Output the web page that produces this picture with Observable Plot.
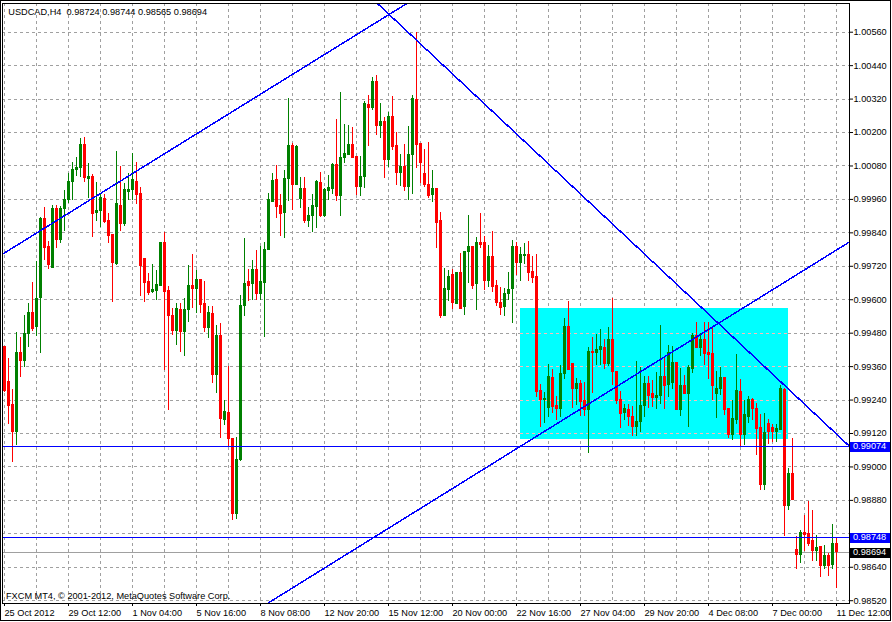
<!DOCTYPE html>
<html><head><meta charset="utf-8">
<script src="https://cdn.jsdelivr.net/npm/d3@7"></script>
<script src="https://cdn.jsdelivr.net/npm/@observablehq/plot@0.6"></script>
<style>
html,body{margin:0;padding:0;background:#fff;}
#chart svg{display:block;}
#chart svg text{white-space:pre;}
</style></head><body><div id="chart"></div>
<script>
const symbolLine = "USDCAD,H4  0.98724 0.98744 0.98565 0.98694";
const copyright = "FXCM MT4, \u00a9 2001-2012, MetaQuotes Software Corp.";

const opens = [0.99430,0.99306,0.99224,0.99125,0.99409,0.99380,0.99478,0.99553,0.99502,0.99606,
0.99890,0.99789,0.99714,0.99926,0.99815,0.99924,0.99958,1.00022,1.00064,1.00072,
1.00156,1.00033,1.00042,0.99911,0.99918,0.99962,0.99882,0.99834,0.99729,0.99938,
0.99870,0.99988,0.99992,1.00024,0.99978,0.99747,0.99663,0.99627,0.99631,0.99648,
0.99805,0.99631,0.99541,0.99488,0.99564,0.99484,0.99562,0.99648,0.99640,0.99672,
0.99583,0.99499,0.99550,0.99329,0.99469,0.99167,0.99194,0.99101,0.98832,0.99024,
0.99576,0.99664,0.99658,0.99706,0.99622,0.99660,0.99780,0.99951,1.00028,0.99935,
0.99911,1.00034,1.00153,1.00010,0.99962,0.99998,0.99882,0.99899,0.99932,1.00019,
0.99899,0.99990,0.99998,1.00082,0.99974,1.00108,1.00121,1.00157,1.00112,1.00004,
1.00042,1.00297,1.00289,1.00383,1.00222,1.00236,1.00100,1.00257,1.00150,1.00054,
1.00076,1.00006,1.00118,1.00318,1.00159,1.00052,1.00010,0.99977,0.99996,0.99881,
0.99540,0.99635,0.99687,0.99583,0.99695,0.99573,0.99771,0.99791,0.99657,0.99805,
0.99805,0.99667,0.99755,0.99651,0.99590,0.99573,0.99619,0.99637,0.99791,0.99731,
0.99756,0.99759,0.99698,0.99680,0.99271,0.99241,0.99212,0.99320,0.99217,0.99207,
0.99334,0.99502,0.99368,0.99278,0.99296,0.99235,0.99206,0.99412,0.99408,0.99418,
0.99426,0.99370,0.99457,0.99342,0.99242,0.99193,0.99205,0.99181,0.99145,0.99161,
0.99218,0.99296,0.99260,0.99247,0.99254,0.99324,0.99295,0.99301,0.99372,0.99206,
0.99289,0.99262,0.99352,0.99469,0.99427,0.99457,0.99409,0.99406,0.99260,0.99278,
0.99319,0.99207,0.99113,0.99167,0.99269,0.99113,0.99181,0.99242,0.99209,0.99140,
0.98934,0.99155,0.99140,0.99125,0.99134,0.99277,0.98860,0.98973,0.98701,0.98683,
0.98764,0.98758,0.98733,0.98698,0.98713,0.98644,0.98679,0.98647,0.98724];

const highs = [0.99432,0.99389,0.99277,0.99482,0.99463,0.99543,0.99585,0.99661,0.99737,0.99896,
0.99930,0.99809,0.99938,0.99938,0.99934,0.99992,1.00052,1.00091,1.00111,1.00177,
1.00181,1.00088,1.00049,1.00022,0.99980,0.99978,0.99911,0.99834,1.00132,1.00078,
1.00018,1.00052,1.00123,1.00091,1.00001,0.99747,0.99694,0.99727,0.99706,0.99807,
0.99840,0.99646,0.99568,0.99586,0.99586,0.99604,0.99723,0.99763,0.99706,0.99672,
0.99667,0.99574,0.99574,0.99506,0.99514,0.99239,0.99359,0.99101,0.99104,0.99616,
0.99819,0.99708,0.99741,0.99777,0.99792,0.99807,0.99981,1.00052,1.00081,0.99978,
1.00064,1.00321,1.00159,1.00153,1.00040,1.00040,0.99932,0.99978,1.00028,1.00058,
0.99998,1.00046,1.00088,1.00247,1.00345,1.00229,1.00225,1.00217,1.00114,1.00114,
1.00311,1.00333,1.00399,1.00405,1.00305,1.00253,1.00273,1.00329,1.00201,1.00121,
1.00157,1.00222,1.00333,1.00560,1.00162,1.00139,1.00163,1.00064,0.99996,0.99912,
0.99711,0.99705,0.99708,0.99699,0.99767,0.99773,0.99902,0.99791,0.99824,0.99908,
0.99827,0.99795,0.99845,0.99669,0.99643,0.99639,0.99699,0.99813,0.99807,0.99789,
0.99801,0.99809,0.99756,0.99762,0.99296,0.99268,0.99368,0.99350,0.99253,0.99364,
0.99534,0.99594,0.99372,0.99316,0.99310,0.99304,0.99430,0.99466,0.99475,0.99492,
0.99456,0.99499,0.99603,0.99342,0.99271,0.99223,0.99223,0.99218,0.99379,0.99358,
0.99324,0.99324,0.99310,0.99340,0.99507,0.99396,0.99436,0.99432,0.99372,0.99352,
0.99328,0.99364,0.99478,0.99517,0.99478,0.99519,0.99517,0.99499,0.99343,0.99358,
0.99319,0.99207,0.99239,0.99404,0.99313,0.99239,0.99251,0.99247,0.99227,0.99189,
0.99191,0.99171,0.99153,0.99153,0.99293,0.99281,0.98994,0.99101,0.98749,0.98772,
0.98826,0.98877,0.98844,0.98755,0.98715,0.98719,0.98689,0.98794,0.98744];

const lows = [0.99268,0.99152,0.99017,0.99077,0.99320,0.99358,0.99430,0.99487,0.99469,0.99408,
0.99741,0.99708,0.99713,0.99785,0.99803,0.99846,0.99944,0.99956,1.00042,1.00040,
1.00022,0.99962,0.99824,0.99881,0.99858,0.99872,0.99803,0.99591,0.99723,0.99845,
0.99863,0.99956,0.99956,0.99942,0.99612,0.99590,0.99616,0.99622,0.99596,0.99648,
0.99347,0.99203,0.99472,0.99436,0.99412,0.99395,0.99517,0.99568,0.99550,0.99550,
0.99484,0.99460,0.99301,0.99265,0.99101,0.99149,0.99072,0.98809,0.98811,0.99021,
0.99541,0.99592,0.99598,0.99596,0.99598,0.99463,0.99777,0.99951,0.99891,0.99828,
0.99819,0.99954,0.99920,1.00010,0.99926,0.99875,0.99860,0.99840,0.99854,0.99894,
0.99896,0.99956,0.99976,0.99954,0.99899,1.00090,1.00118,1.00108,0.99974,0.99970,
0.99998,1.00150,1.00279,1.00189,1.00177,1.00036,1.00076,1.00135,1.00010,1.00006,
0.99988,0.99956,0.99978,1.00070,1.00016,1.00004,0.99962,0.99950,0.99785,0.99534,
0.99540,0.99594,0.99564,0.99583,0.99567,0.99543,0.99659,0.99635,0.99561,0.99785,
0.99633,0.99645,0.99627,0.99576,0.99543,0.99540,0.99597,0.99516,0.99687,0.99665,
0.99725,0.99665,0.99659,0.99248,0.99143,0.99155,0.99179,0.99193,0.99167,0.99179,
0.99313,0.99346,0.99210,0.99220,0.99182,0.99182,0.99047,0.99262,0.99364,0.99364,
0.99350,0.99360,0.99292,0.99223,0.99139,0.99167,0.99145,0.99110,0.99110,0.99125,
0.99176,0.99208,0.99214,0.99205,0.99224,0.99206,0.99248,0.99278,0.99202,0.99181,
0.99260,0.99140,0.99334,0.99424,0.99396,0.99364,0.99314,0.99238,0.99173,0.99257,
0.99185,0.99101,0.99095,0.99153,0.99071,0.99077,0.99155,0.99167,0.99042,0.98914,
0.98914,0.99081,0.99089,0.99086,0.99131,0.98751,0.98842,0.98878,0.98631,0.98653,
0.98697,0.98713,0.98659,0.98662,0.98605,0.98631,0.98607,0.98631,0.98565];

const closes = [0.99274,0.99217,0.99125,0.99409,0.99380,0.99478,0.99553,0.99496,0.99603,0.99890,
0.99785,0.99726,0.99926,0.99815,0.99926,0.99958,1.00022,1.00066,1.00073,1.00156,
1.00037,1.00042,0.99906,0.99920,0.99966,0.99878,0.99828,0.99731,0.99942,0.99870,
0.99992,0.99995,1.00028,0.99975,0.99720,0.99660,0.99625,0.99634,0.99652,0.99804,
0.99628,0.99541,0.99488,0.99568,0.99484,0.99564,0.99648,0.99640,0.99672,0.99580,
0.99499,0.99554,0.99329,0.99469,0.99173,0.99197,0.99101,0.98832,0.99024,0.99576,
0.99658,0.99648,0.99706,0.99622,0.99664,0.99780,0.99957,1.00025,0.99933,0.99906,
1.00034,1.00153,1.00010,1.00147,0.99998,0.99882,0.99902,0.99935,1.00022,0.99899,
0.99992,1.00002,1.00082,0.99974,1.00110,1.00124,1.00157,1.00108,1.00004,1.00042,
1.00301,1.00289,1.00381,1.00222,1.00236,1.00100,1.00257,1.00147,1.00054,1.00076,
1.00004,1.00118,1.00321,1.00157,1.00090,1.00010,0.99974,0.99996,0.99875,0.99540,
0.99637,0.99683,0.99588,0.99695,0.99567,0.99773,0.99791,0.99651,0.99805,0.99798,
0.99667,0.99755,0.99645,0.99588,0.99571,0.99619,0.99635,0.99791,0.99731,0.99759,
0.99760,0.99695,0.99677,0.99268,0.99241,0.99244,0.99322,0.99215,0.99207,0.99334,
0.99502,0.99348,0.99279,0.99296,0.99232,0.99206,0.99412,0.99408,0.99421,0.99430,
0.99370,0.99456,0.99340,0.99238,0.99190,0.99208,0.99179,0.99145,0.99161,0.99220,
0.99296,0.99256,0.99247,0.99256,0.99324,0.99292,0.99408,0.99372,0.99206,0.99289,
0.99262,0.99354,0.99469,0.99427,0.99457,0.99406,0.99402,0.99292,0.99281,0.99319,
0.99203,0.99113,0.99171,0.99271,0.99113,0.99185,0.99239,0.99207,0.99135,0.98934,
0.99123,0.99125,0.99125,0.99137,0.99278,0.98860,0.98976,0.98880,0.98683,0.98764,
0.98756,0.98725,0.98698,0.98710,0.98644,0.98679,0.98643,0.98725,0.98694];

// bottom time axis: bar number of each label and its text
const timeTickBars = [1,17,33,49,65,81,97,113,129,145,161,177,193,209];
const timeLabels = ["25 Oct 2012","29 Oct 12:00","1 Nov 04:00","5 Nov 16:00","8 Nov 08:00",
  "12 Nov 20:00","15 Nov 12:00","20 Nov 00:00","22 Nov 16:00","27 Nov 04:00",
  "29 Nov 20:00","4 Dec 08:00","7 Dec 00:00","11 Dec 12:00"];
// right price axis
const gridPrices = [0.98520,0.98640,0.98760,0.98880,0.99000,0.99120,0.99240,0.99360,0.99480,
  0.99600,0.99720,0.99840,0.99960,1.00080,1.00200,1.00320,1.00440,1.00560];
const priceLabels = ["0.98520","0.98640","0.98880","0.99000","0.99120","0.99240","0.99360","0.99480",
  "0.99600","0.99720","0.99840","0.99960","1.00080","1.00200","1.00320","1.00440","1.00560"];

// chart objects (bar number, price)
const trendUpper = [[0, 0.99759], [110, 1.00738]];
const trendDown  = [[90, 1.00720], [215, 0.99037]];
const trendLower = [[60, 0.98450], [215, 0.99832]];
const levelLines = [0.99074, 0.98748];
const bidPrice = 0.98694;
const zoneFrom = [130], zoneTo = [197], zoneTop = [0.99568], zoneBottom = [0.99097];
const markerPrices = [0.99074, 0.98748, 0.98694];
const markerFills = ["#0000ff", "#0000ff", "#000000"];

const UP = "#008000", DOWN = "#ff0000", BLUE = "#0000ff", GRID = "#a0a0a0";

const bars = opens.map((o, k) => ({bar: k + 1, open: o, high: highs[k], low: lows[k], close: closes[k],
  col: closes[k] >= o ? UP : DOWN}));
const zones = zoneFrom.map((f, k) => ({from: f, to: zoneTo[k], top: zoneTop[k], bottom: zoneBottom[k]}));
const gridBars = d3.range(1, opens.length + 1, 8);
const gridInZone = gridPrices.filter(p => zones.some(z => p >= z.bottom && p <= z.top));

const chart = Plot.plot({
  width: 892, height: 622,
  marginTop: 3, marginLeft: 2, marginRight: 43, marginBottom: 19,
  style: {fontFamily: "'Liberation Sans', Arial, sans-serif", fontSize: "9.2px", color: "#000", background: "#fff"},
  x: {type: "linear", domain: [0.5, 212.25], axis: null},
  y: {type: "linear", domain: [0.98510, 1.00663], axis: null},
  color: {type: "identity"},
  marks: [
    Plot.ruleX(gridBars, {x: d => d, stroke: GRID, strokeDasharray: "3,3", shapeRendering: "crispEdges"}),
    Plot.ruleY(gridPrices, {y: d => d, stroke: GRID, strokeDasharray: "3,3", shapeRendering: "crispEdges"}),
    Plot.rect(zones, {x1: "from", x2: "to", y1: "bottom", y2: "top", fill: "#00ffff", shapeRendering: "crispEdges"}),
    Plot.ruleY(gridInZone, {y: d => d, x1: () => zones[0].from, x2: () => zones[0].to,
      stroke: "#ffb8b8", strokeDasharray: "3,3", shapeRendering: "crispEdges"}),
    Plot.ruleY([bidPrice], {y: d => d, stroke: GRID, shapeRendering: "crispEdges"}),
    Plot.ruleX(bars, {x: "bar", y1: "low", y2: "high", stroke: "col", shapeRendering: "crispEdges"}),
    Plot.rect(bars, {x1: d => d.bar - 0.375, x2: d => d.bar + 0.375, y1: "open", y2: "close",
      fill: "col", insetTop: -0.5, insetBottom: -0.5, shapeRendering: "crispEdges"}),
    Plot.ruleY(levelLines, {y: d => d, stroke: BLUE, shapeRendering: "crispEdges"}),
    Plot.line(trendUpper, {x: d => d[0], y: d => d[1], stroke: BLUE, clip: true, shapeRendering: "crispEdges"}),
    Plot.line(trendDown, {x: d => d[0], y: d => d[1], stroke: BLUE, clip: true, shapeRendering: "crispEdges"}),
    Plot.line(trendLower, {x: d => d[0], y: d => d[1], stroke: BLUE, clip: true, shapeRendering: "crispEdges"}),
    Plot.frame({stroke: "#000", shapeRendering: "crispEdges"}),
    Plot.axisX(timeTickBars, {anchor: "bottom", tickSize: 3, tickPadding: 3, textAnchor: "start",
      tickFormat: d => timeLabels[timeTickBars.indexOf(d)], fill: "#000", stroke: "#000"}),
    Plot.axisY(priceLabels.map(Number), {anchor: "right", tickSize: 3, tickPadding: 1,
      tickFormat: d => priceLabels[priceLabels.map(Number).indexOf(d)], fill: "#000", stroke: "#000"}),
    Plot.text([symbolLine], {text: d => d, frameAnchor: "top-left", textAnchor: "start", lineAnchor: "middle",
      dx: 5.8, dy: 8.1, fill: "#000"}),
    Plot.text([copyright], {text: d => d, frameAnchor: "bottom-left", textAnchor: "start", lineAnchor: "middle",
      dx: 3.5, dy: -7.9, fill: "#000"})
  ]
});

// price markers on the right scale, placed with the plot's own y scale
const svg = d3.select(chart);
const yScale = chart.scale("y");
const frameRight = 892 - 43;
const g = svg.append("g").attr("text-anchor", "start");
markerPrices.forEach((p, k) => {
  const yy = Math.round(yScale.apply(p)) + 0.5;
  g.append("rect").attr("x", frameRight + 0.5).attr("y", yy - 5).attr("width", 41).attr("height", 10)
    .attr("fill", markerFills[k]).attr("shape-rendering", "crispEdges");
  g.append("text").attr("x", frameRight + 4).attr("y", yy).attr("dy", "0.32em")
    .attr("text-anchor", "start").attr("fill", "#fff").text(p.toFixed(5));
});
svg.append("rect").attr("x", 0.5).attr("y", 0.5).attr("width", 890).attr("height", 620)
  .attr("fill", "none").attr("stroke", "#000").attr("shape-rendering", "crispEdges");

document.getElementById("chart").appendChild(chart);
</script></body></html>
